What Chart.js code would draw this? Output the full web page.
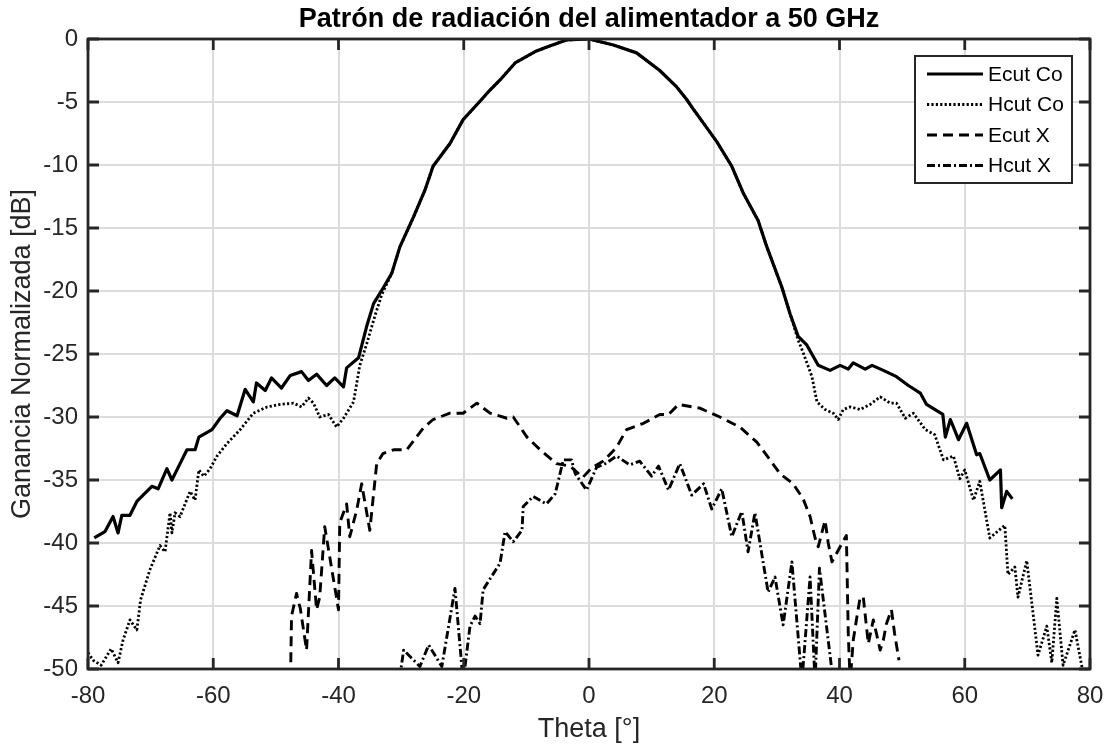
<!DOCTYPE html>
<html>
<head>
<meta charset="utf-8">
<script src="https://cdn.jsdelivr.net/npm/chart.js@4.4.0/dist/chart.umd.min.js"></script>
<style>
  body { margin: 0; background: #fff; }
  canvas { display: block; }
</style>
</head>
<body>
<canvas id="myChart" width="1106" height="746"></canvas>
<script>
// values (theta in degrees, gain in dB)
const ecutCoTheta = [
  -79, -77.3, -76, -75.2, -74.6, -73.3, -72.2, -71.2, -69.8, -68.8,
  -67.4, -66.6, -65.3, -64.2, -62.9, -62.3, -60.2, -58.9, -57.8, -56.2,
  -54.9, -53.6, -53.1, -51.7, -50.7, -49.1, -47.7, -45.9, -44.8, -43.5,
  -41.9, -40.6, -39.2, -38.7, -36.8, -35.5, -34.4, -32.8, -31.5, -30.2,
  -28, -26.2, -24.9, -22.2, -20.1, -17.7, -15.8, -14.2, -11.8, -8.6,
  -6.5, -3.6, 0, 3.9, 7.6, 11.3, 14, 15.6, 16.7, 18.3,
  20.4, 22.8, 24.6, 27, 28.4, 30.8, 32.1, 33.4, 34.8, 36.6,
  38.5, 40.1, 41.4, 42.2, 44.1, 45.2, 47, 49.1, 51, 52.9,
  53.9, 56.5, 56.9, 57.7, 59, 60.3, 61.9, 62.4, 64, 65.7,
  65.9, 66.7, 67.6
];
const ecutCoGain = [
  -39.6, -39.1, -37.9, -39.2, -37.8, -37.8, -36.7, -36.2, -35.5, -35.7,
  -34.1, -35.0, -33.7, -32.6, -32.6, -31.6, -31.0, -30.1, -29.5, -29.9,
  -27.8, -28.8, -27.3, -27.9, -26.9, -27.7, -26.7, -26.4, -27.1, -26.6,
  -27.5, -26.9, -27.6, -26.1, -25.3, -22.8, -21.0, -19.7, -18.6, -16.5,
  -14.1, -12.0, -10.1, -8.3, -6.4, -5.1, -4.05, -3.25, -1.9, -1.0,
  -0.6, -0.08, 0, -0.48, -1.1, -2.5, -3.8, -4.8, -5.6, -6.7,
  -8.15, -10.1, -12.2, -14.4, -16.5, -19.7, -21.8, -23.6, -24.3, -25.9,
  -26.3, -25.9, -26.2, -25.7, -26.2, -25.9, -26.3, -26.8, -27.5, -28.1,
  -29.0, -29.8, -31.6, -30.2, -31.8, -30.5, -33.0, -32.9, -35.0, -34.2,
  -37.2, -35.9, -36.5
];

const hcutCoTheta = [
  -80, -79.2, -77.9, -76.3, -75.2, -74.4, -73.3, -72.2, -71.6, -70.1,
  -68.5, -67.7, -66.9, -66.6, -66.1, -65.3, -63.7, -62.9, -62.3, -61.5,
  -60.5, -59.4, -57.8, -55.7, -53.6, -51.4, -49.3, -47.2, -45.9, -44.8,
  -44.0, -43.0, -41.6, -40.3, -39.2, -37.6, -36.6, -35.5, -34.2, -33.1,
  -31.5, -30.2, -28, -26.2, -24.9, -22.2, -20.1, -17.7, -15.8, -14.2,
  -11.8, -8.6, -6.5, -3.6, 0, 3.9, 7.6, 11.3, 14, 15.6,
  16.7, 18.3, 20.4, 22.8, 24.6, 27, 28.4, 30.8, 32.1, 33.4,
  34.2, 35.6, 36.4, 37.7, 39.0, 39.8, 40.6, 41.7, 43.3, 44.9,
  46.5, 48.1, 49.1, 50.5, 51.8, 53.7, 55.2, 56.6, 58.2, 59.2,
  60.0, 61.4, 62.4, 64.0, 66.4, 66.9, 68.0, 68.5, 69.9, 71.7,
  73.1, 73.9, 74.7, 75.7, 77.6, 78.7, 79.5
];
const hcutCoGain = [
  -48.7, -49.3, -49.7, -48.4, -49.5, -47.7, -46.1, -46.9, -44.5, -42.1,
  -40.2, -40.7, -37.6, -39.2, -37.6, -37.9, -35.9, -36.6, -34.2, -34.7,
  -34.1, -33.1, -32.1, -31.0, -29.7, -29.2, -29.0, -28.9, -29.2, -28.5,
  -28.9, -30.0, -29.8, -30.8, -30.1, -28.8, -25.9, -24.2, -22.0, -20.3,
  -18.6, -16.5, -14.1, -12.0, -10.1, -8.3, -6.4, -5.1, -4.05, -3.25,
  -1.9, -1.0, -0.6, -0.08, 0, -0.48, -1.1, -2.5, -3.8, -4.8,
  -5.6, -6.7, -8.15, -10.1, -12.2, -14.4, -16.5, -19.7, -21.8, -23.9,
  -24.9, -26.8, -28.8, -29.4, -29.7, -30.2, -29.4, -29.2, -29.4, -29.0,
  -28.4, -28.9, -28.9, -30.1, -29.7, -31.0, -31.4, -33.4, -33.1, -34.9,
  -34.2, -36.6, -35.1, -39.6, -38.6, -42.5, -41.9, -44.3, -41.4, -48.9,
  -46.6, -49.5, -44.4, -49.7, -46.9, -49.8, -51
];

const ecutXTheta = [
  -47.7, -47.5, -46.7, -46.1, -45.1, -44.3, -43.5, -43.0, -42.2, -41.4,
  -40.0, -39.8, -38.7, -38.2, -37.1, -36.3, -35.0, -33.9, -32.9, -31.2,
  -29.1, -26.5, -24.9, -22.2, -20.1, -17.9, -15.8, -13.1, -12.1, -9.9,
  -7.8, -5.2, -3.0, -1.0, 0.5, 2.3, 4.4, 6.0, 8.7, 11.3,
  12.7, 14.3, 17.7, 20.9, 24.1, 26.8, 28.9, 30.5, 32.6, 34.2,
  35.3, 36.1, 36.6, 37.7, 38.2, 38.8, 40.1, 41.1, 41.4, 41.7,
  42.2, 42.8, 43.3, 43.8, 44.6, 45.4, 46.5, 47.0, 47.5, 48.3,
  48.8, 49.5
];
const ecutXGain = [
  -52, -45.8, -44.0, -45.2, -48.5, -40.6, -45.3, -44.3, -38.7, -41.1,
  -45.3, -38.4, -36.9, -39.5, -37.4, -35.3, -39.0, -33.7, -32.9, -32.6,
  -32.6, -30.9, -30.2, -29.7, -29.7, -28.9, -29.7, -30.1, -30.0, -31.6,
  -32.6, -33.7, -33.9, -34.8, -34.0, -33.5, -32.4, -31.0, -30.5, -29.8,
  -29.8, -29.0, -29.3, -30.0, -30.8, -32.0, -33.4, -34.5, -35.3, -36.5,
  -37.9, -39.6, -40.3, -38.2, -40.0, -41.5, -40.3, -39.4, -47.2, -51,
  -47.7, -45.8, -44.3, -44.3, -48.0, -46.1, -48.5, -47.7, -46.4, -45.3,
  -47.2, -49.3
];

const hcutXTheta = [
  -30.6, -29.6, -27.0, -25.6, -23.5, -21.4, -20.1, -19.0, -18.2, -17.4,
  -16.9, -14.2, -13.4, -12.1, -10.7, -10.5, -8.9, -6.8, -5.4, -4.1,
  -2.8, -2.2, -0.4, 1.2, 2.6, 4.4, 6.5, 8.1, 10.0, 11.1,
  12.7, 14.5, 16.4, 18.3, 19.6, 21.2, 22.8, 24.4, 25.4, 26.5,
  28.6, 29.7, 31.0, 32.4, 34.0, 35.3, 36.1, 36.8, 39.0
];
const hcutXGain = [
  -52, -48.5, -49.8, -48.1, -49.8, -43.6, -51, -46.6, -45.8, -46.4,
  -43.7, -41.6, -39.1, -39.9, -39.0, -37.1, -36.3, -36.9, -36.1, -33.4,
  -33.4, -34.5, -35.8, -34.0, -33.7, -33.1, -33.8, -33.5, -34.7, -33.9,
  -35.8, -33.7, -36.2, -35.3, -37.3, -35.7, -39.5, -37.5, -40.7, -37.6,
  -43.9, -42.7, -46.5, -41.5, -51, -42.7, -51, -42.0, -51
];

const seriesNames = ['Ecut Co', 'Hcut Co', 'Ecut X', 'Hcut X'];
const xTicks = [-80, -60, -40, -20, 0, 20, 40, 60, 80];
const yTicks = [0, -5, -10, -15, -20, -25, -30, -35, -40, -45, -50];

const axisColor = '#262626';
const gridColor = '#dcdcdc';
const fontFamily = "'Liberation Sans', Arial, sans-serif";
Chart.defaults.font.family = fontFamily;
Chart.defaults.color = axisColor;

function pts(xs, ys) {
  return xs.map((t, i) => ({ x: t, y: ys[i] }));
}

const styles = [
  { dash: [], width: 3.2 },
  { dash: [2.2, 2.2], width: 2.8 },
  { dash: [10, 6], width: 2.9 },
  { dash: [8, 3, 2, 3], width: 2.9 }
];

const data = {
  datasets: [
    pts(ecutCoTheta, ecutCoGain),
    pts(hcutCoTheta, hcutCoGain),
    pts(ecutXTheta, ecutXGain),
    pts(hcutXTheta, hcutXGain)
  ].map((d, i) => ({
    label: seriesNames[i],
    data: d,
    showLine: true,
    borderColor: '#000',
    backgroundColor: '#000',
    borderWidth: styles[i].width,
    borderDash: styles[i].dash,
    borderJoinStyle: 'round',
    pointRadius: 0,
    tension: 0
  }))
};

// axes box, inward tick marks, title and legend drawn over the plot
const frame = {
  id: 'frame',
  afterDraw(chart) {
    const { ctx, chartArea: a, scales: { x, y } } = chart;
    ctx.save();
    ctx.strokeStyle = axisColor;
    ctx.lineWidth = 2.8;
    ctx.strokeRect(a.left, a.top, a.right - a.left, a.bottom - a.top);
    ctx.beginPath();
    xTicks.forEach(v => {
      const p = x.getPixelForValue(v);
      ctx.moveTo(p, a.bottom); ctx.lineTo(p, a.bottom - 11);
      ctx.moveTo(p, a.top); ctx.lineTo(p, a.top + 11);
    });
    yTicks.forEach(v => {
      const p = y.getPixelForValue(v);
      ctx.moveTo(a.left, p); ctx.lineTo(a.left + 11, p);
      ctx.moveTo(a.right, p); ctx.lineTo(a.right - 11, p);
    });
    ctx.stroke();

    // title
    ctx.fillStyle = '#000';
    ctx.font = 'bold 27px ' + fontFamily;
    ctx.textAlign = 'center';
    ctx.textBaseline = 'alphabetic';
    ctx.fillText('Patrón de radiación del alimentador a 50 GHz', (a.left + a.right) / 2, 27);

    // legend
    const lx = 915, ly = 56, lw = 157, lh = 127;
    ctx.fillStyle = '#fff';
    ctx.fillRect(lx, ly, lw, lh);
    ctx.lineWidth = 2;
    ctx.strokeStyle = axisColor;
    ctx.strokeRect(lx, ly, lw, lh);
    const rows = [74, 104.5, 135, 165.5];
    chart.data.datasets.forEach((ds, i) => {
      ctx.beginPath();
      ctx.setLineDash(ds.borderDash);
      ctx.lineWidth = ds.borderWidth;
      ctx.strokeStyle = '#000';
      ctx.moveTo(927, rows[i]);
      ctx.lineTo(983, rows[i]);
      ctx.stroke();
      ctx.setLineDash([]);
      ctx.fillStyle = '#000';
      ctx.font = '21px ' + fontFamily;
      ctx.textAlign = 'left';
      ctx.textBaseline = 'middle';
      ctx.fillText(ds.label, 988, rows[i] + 1);
    });
    ctx.restore();
  }
};

const config = {
  type: 'scatter',
  data: data,
  options: {
    responsive: false,
    animation: false,
    devicePixelRatio: 1,
    layout: { padding: { top: 39, right: 16, left: 0, bottom: 0 } },
    plugins: {
      legend: { display: false },
      tooltip: { enabled: false }
    },
    scales: {
      x: {
        type: 'linear',
        min: -80,
        max: 80,
        afterBuildTicks: s => { s.ticks = xTicks.map(v => ({ value: v })); },
        afterFit: s => { s.height = 77; s.paddingLeft = 0; s.paddingRight = 0; },
        ticks: { font: { size: 24 }, color: axisColor, padding: 13, maxRotation: 0 },
        grid: { color: gridColor, lineWidth: 2, drawTicks: false },
        border: { display: false },
        title: {
          display: true,
          text: 'Theta [°]',
          font: { size: 27 },
          color: axisColor,
          padding: { top: 0, bottom: 0 }
        }
      },
      y: {
        type: 'linear',
        min: -50,
        max: 0,
        afterBuildTicks: s => { s.ticks = yTicks.map(v => ({ value: v })); },
        afterFit: s => { s.width = 88; s.paddingTop = 0; s.paddingBottom = 0; },
        ticks: { font: { size: 24 }, color: axisColor, padding: 10 },
        grid: { color: gridColor, lineWidth: 2, drawTicks: false },
        border: { display: false },
        title: {
          display: true,
          text: 'Ganancia Normalizada [dB]',
          font: { size: 27 },
          color: axisColor,
          padding: { top: 6, bottom: 0 }
        }
      }
    }
  },
  plugins: [frame]
};

const myChart = new Chart(document.getElementById('myChart'), config);
</script>
</body>
</html>
